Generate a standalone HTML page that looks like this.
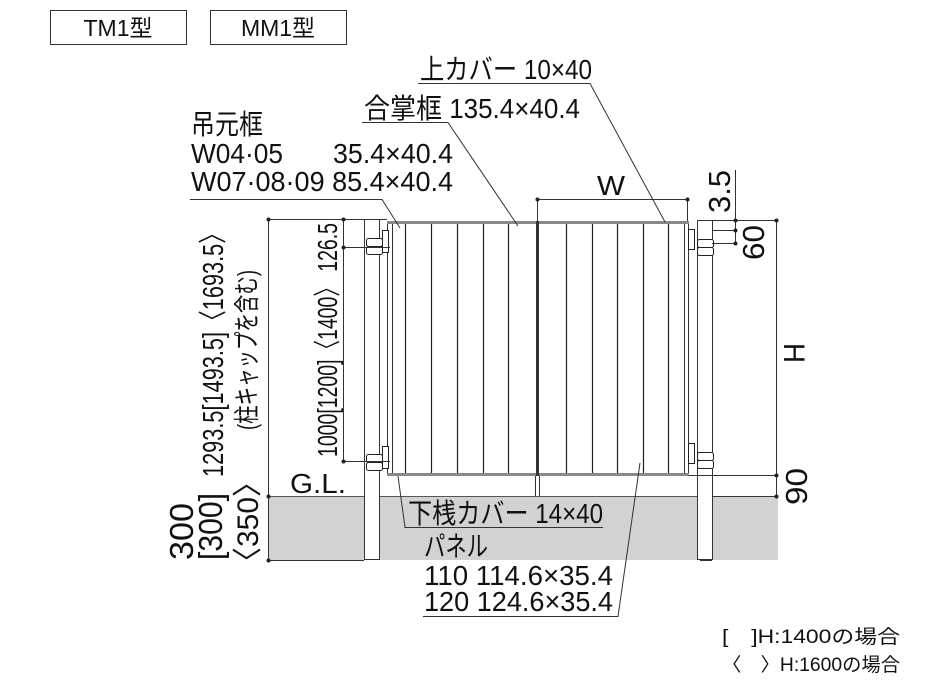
<!DOCTYPE html>
<html><head><meta charset="utf-8"><style>
html,body{margin:0;padding:0;background:#fff}
svg{display:block}
text{font-family:"Liberation Sans","Noto Sans CJK JP",sans-serif;fill:#111}
</style></head><body>
<svg width="933" height="700" viewBox="0 0 933 700" xmlns="http://www.w3.org/2000/svg">
<rect x="50.5" y="10.5" width="136" height="34" fill="#fff" stroke="#333" stroke-width="1"/>
<text x="118" y="36" font-size="23" text-anchor="middle">TM1型</text>
<rect x="210.5" y="10.5" width="136" height="34" fill="#fff" stroke="#333" stroke-width="1"/>
<text x="278" y="36" font-size="23" text-anchor="middle">MM1型</text>

<rect x="268" y="496" width="510" height="64" fill="#d2d2d2"/>
<line x1="268" y1="496.5" x2="778" y2="496.5" stroke="#555" stroke-width="1"/>

<rect x="364.5" y="219.5" width="15" height="340" fill="#fff" stroke="#333" stroke-width="1"/>
<rect x="697.5" y="220.5" width="15" height="339" fill="#fff" stroke="#333" stroke-width="1"/>
<line x1="268" y1="219.5" x2="387" y2="219.5" stroke="#333" stroke-width="1"/>

<rect x="387.5" y="223" width="301" height="252" fill="#fff" stroke="#333" stroke-width="1"/>
<rect x="387" y="221" width="302" height="3" fill="#888"/>
<rect x="387" y="473" width="302" height="3" fill="#888"/>
<line x1="392.5" y1="224" x2="392.5" y2="473" stroke="#333" stroke-width="1"/>
<line x1="684.5" y1="224" x2="684.5" y2="473" stroke="#333" stroke-width="1"/>
<rect x="536" y="221" width="3" height="255" fill="#333"/>
<g stroke="#222" stroke-width="1.2">
<line x1="405.5" y1="224" x2="405.5" y2="473"/>
<line x1="431.5" y1="224" x2="431.5" y2="473"/>
<line x1="457.5" y1="224" x2="457.5" y2="473"/>
<line x1="483.5" y1="224" x2="483.5" y2="473"/>
<line x1="508.5" y1="224" x2="508.5" y2="473"/>
<line x1="566.5" y1="224" x2="566.5" y2="473"/>
<line x1="592.5" y1="224" x2="592.5" y2="473"/>
<line x1="617.5" y1="224" x2="617.5" y2="473"/>
<line x1="643.5" y1="224" x2="643.5" y2="473"/>
<line x1="668.5" y1="224" x2="668.5" y2="473"/>
</g>
<line x1="535.5" y1="476" x2="535.5" y2="496" stroke="#333"/>
<line x1="539.5" y1="476" x2="539.5" y2="496" stroke="#333"/>

<g fill="#fff" stroke="#222" stroke-width="1">
<rect x="382.5" y="230.5" width="6" height="22"/>
<rect x="366.5" y="238.5" width="16" height="8" rx="2"/>
<rect x="366.5" y="246.5" width="16" height="8" rx="2"/>
<rect x="382.5" y="446.5" width="6" height="22"/>
<rect x="366.5" y="454.5" width="16" height="8" rx="2"/>
<rect x="366.5" y="462.5" width="16" height="8" rx="2"/>
<rect x="688.5" y="229.5" width="6" height="20"/>
<rect x="697.5" y="239.5" width="16" height="8" rx="2"/>
<rect x="697.5" y="247.5" width="16" height="8" rx="2"/>
<rect x="688.5" y="443.5" width="6" height="20"/>
<rect x="697.5" y="452.5" width="16" height="8" rx="2"/>
<rect x="697.5" y="460.5" width="16" height="8" rx="2"/>
</g>

<g stroke="#333" stroke-width="1" fill="none">
<line x1="268.5" y1="219" x2="268.5" y2="560"/>
<line x1="343.5" y1="219" x2="343.5" y2="461"/>
<line x1="343" y1="247.5" x2="390" y2="247.5"/>
<line x1="343" y1="461.5" x2="390" y2="461.5"/>
<line x1="268" y1="560.5" x2="364" y2="560.5"/>
<line x1="538" y1="199.5" x2="688" y2="199.5"/>
<line x1="537.5" y1="199" x2="537.5" y2="221"/>
<line x1="687.5" y1="199" x2="687.5" y2="221"/>
<line x1="712" y1="220.5" x2="777" y2="220.5"/>
<line x1="712" y1="230.5" x2="735" y2="230.5"/>
<line x1="712" y1="243.5" x2="735" y2="243.5"/>
<line x1="735.5" y1="170" x2="735.5" y2="243"/>
<line x1="776.5" y1="220" x2="776.5" y2="496"/>
<line x1="689" y1="475.5" x2="777" y2="475.5"/>
<line x1="712" y1="496.5" x2="777" y2="496.5"/>
<line x1="700" y1="560.5" x2="712" y2="560.5"/>
</g>
<g fill="#222">
<circle cx="268.5" cy="219.5" r="2"/><circle cx="268.5" cy="496.5" r="2"/><circle cx="268.5" cy="560.5" r="2"/>
<circle cx="343.5" cy="219.5" r="2"/><circle cx="343.5" cy="247.5" r="2"/><circle cx="343.5" cy="461.5" r="2"/>
<circle cx="537.5" cy="199.5" r="2"/><circle cx="687.5" cy="199.5" r="2"/>
<circle cx="735.5" cy="220.5" r="2"/><circle cx="735.5" cy="230.5" r="2"/><circle cx="735.5" cy="243.5" r="2"/>
<circle cx="776.5" cy="220.5" r="2"/><circle cx="776.5" cy="475.5" r="2"/><circle cx="776.5" cy="496.5" r="2"/>
</g>

<g stroke="#333" stroke-width="1" fill="none">
<polyline points="418,83.5 590,83.5 665,222"/>
<polyline points="362,122.5 448,122.5 518,226"/>
<polyline points="190,199.5 382,199.5 400,228"/>
<polyline points="398,476 405,527.5 603,527.5"/>
<polyline points="423,616.5 618,616.5 640,463"/>
</g>

<text x="420" y="79" font-size="28" textLength="172" lengthAdjust="spacingAndGlyphs">上カバー 10×40</text>
<text x="364" y="118" font-size="28" textLength="216" lengthAdjust="spacingAndGlyphs">合掌框 135.4×40.4</text>
<text x="191" y="134" font-size="28" textLength="72" lengthAdjust="spacingAndGlyphs">吊元框</text>
<text x="191" y="163" font-size="28" textLength="92" lengthAdjust="spacingAndGlyphs">W04·05</text>
<text x="333" y="163" font-size="28" textLength="120" lengthAdjust="spacingAndGlyphs">35.4×40.4</text>
<text x="191" y="191" font-size="28" textLength="262" lengthAdjust="spacingAndGlyphs">W07·08·09 85.4×40.4</text>
<text x="597" y="195" font-size="28" textLength="28" lengthAdjust="spacingAndGlyphs">W</text>
<text x="290" y="493" font-size="28" textLength="56" lengthAdjust="spacingAndGlyphs">G.L.</text>
<text x="408" y="523" font-size="28" textLength="195" lengthAdjust="spacingAndGlyphs">下桟カバー 14×40</text>
<text x="424" y="556" font-size="28" textLength="64" lengthAdjust="spacingAndGlyphs">パネル</text>
<text x="424" y="585" font-size="28" textLength="189" lengthAdjust="spacingAndGlyphs">110 114.6×35.4</text>
<text x="424" y="611" font-size="28" textLength="189" lengthAdjust="spacingAndGlyphs">120 124.6×35.4</text>
<text x="722" y="643" font-size="19" textLength="178" lengthAdjust="spacingAndGlyphs">[　]H:1400の場合</text>
<text x="722" y="671" font-size="19" textLength="178" lengthAdjust="spacingAndGlyphs">〈　〉H:1600の場合</text>

<text transform="translate(223,477) rotate(-90)" font-size="29" textLength="255" lengthAdjust="spacingAndGlyphs">1293.5[1493.5]〈1693.5〉</text>
<text transform="translate(256,430) rotate(-90)" font-size="26" textLength="160" lengthAdjust="spacingAndGlyphs">(柱キャップを含む)</text>
<text transform="translate(337,457) rotate(-90)" font-size="28" textLength="234" lengthAdjust="spacingAndGlyphs">1000[1200]〈1400〉 126.5</text>
<text transform="translate(193,560) rotate(-90)" font-size="33" textLength="57" lengthAdjust="spacingAndGlyphs">300</text>
<text transform="translate(222,560) rotate(-90)" font-size="33" textLength="67" lengthAdjust="spacingAndGlyphs">[300]</text>
<text transform="translate(258,577) rotate(-90)" font-size="30">〈350〉</text>
<text transform="translate(784,343) rotate(90)" font-size="30" textLength="20" lengthAdjust="spacingAndGlyphs">H</text>
<text transform="translate(807,505) rotate(-90)" font-size="31" textLength="37" lengthAdjust="spacingAndGlyphs">90</text>
<text transform="translate(764,260) rotate(-90)" font-size="31" textLength="35" lengthAdjust="spacingAndGlyphs">60</text>
<text transform="translate(730,213) rotate(-90)" font-size="31" textLength="43" lengthAdjust="spacingAndGlyphs">3.5</text>
</svg>
</body></html>
